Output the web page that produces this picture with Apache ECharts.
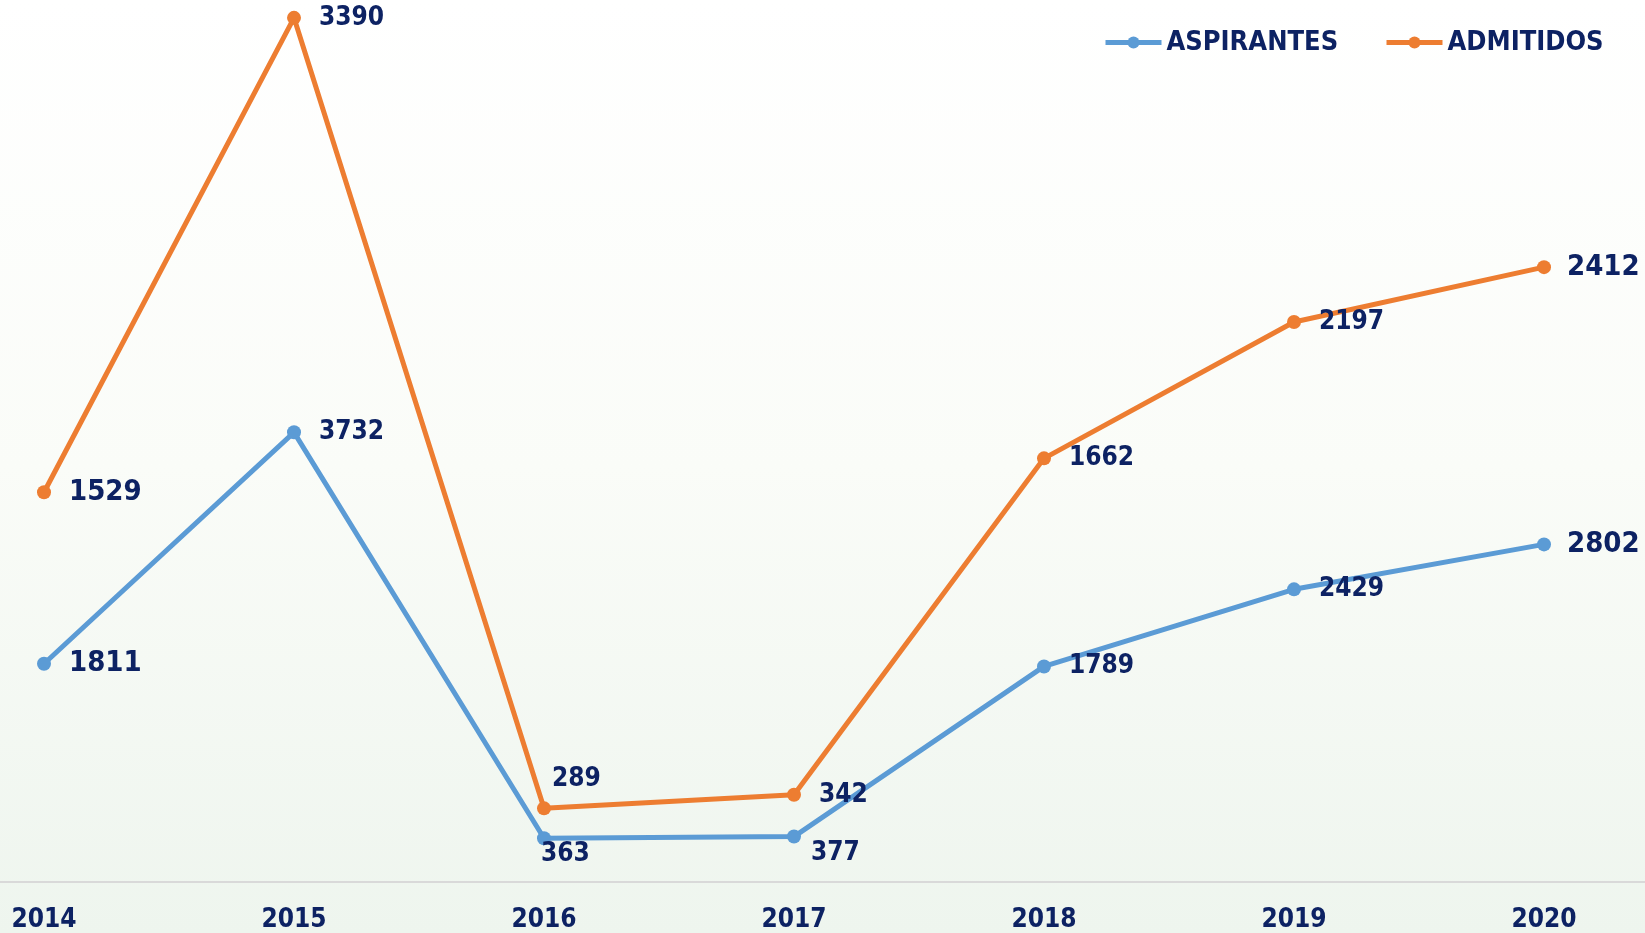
<!DOCTYPE html>
<html>
<head>
<meta charset="utf-8">
<script src="https://cdn.jsdelivr.net/npm/echarts@6/dist/echarts.min.js"></script>
<style>
html,body{margin:0;padding:0;width:1645px;height:933px;overflow:hidden;}
#c{width:1645px;height:933px;}
</style>
</head>
<body>
<div id="c"></div>
<script>
const years = ['2014', '2015', '2016', '2017', '2018', '2019', '2020'];
const aspirantes = [1811, 3732, 363, 377, 1789, 2429, 2802];
const admitidos = [1529, 3390, 289, 342, 1662, 2197, 2412];
const seriesNames = ['ASPIRANTES', 'ADMITIDOS'];

const NAVY = '#0d2263';
const FONT = "'Liberation Sans Narrow', 'DejaVu Sans Condensed', sans-serif";
const BIG = 29, SMALL = 26;

// per-point label tweaks (index -> label overrides)
const aspLabelTweaks = {
  0: {fontSize: BIG},
  2: {offset: [-28, 16]},
  3: {offset: [-8, 17]},
  6: {fontSize: BIG, distance: 16}
};
const admLabelTweaks = {
  0: {fontSize: BIG},
  2: {offset: [-17, -29]},
  6: {fontSize: BIG, distance: 16}
};

function buildData(values, tweaks) {
  return values.map((v, i) => tweaks[i] ? {value: v, label: tweaks[i]} : v);
}

const legendText = {color: NAVY, fontSize: SMALL + 1, fontWeight: 'bold', fontFamily: FONT};
function legendFor(name, left) {
  return {
    data: [name], left: left, top: 29, padding: 0,
    itemWidth: 56, itemHeight: 15,
    lineStyle: {width: 5},
    textStyle: legendText
  };
}

const chart = echarts.init(document.getElementById('c'), null, {renderer: 'canvas'});
chart.setOption({
  animation: false,
  backgroundColor: {
    type: 'linear', x: 0, y: 0, x2: 0, y2: 1,
    colorStops: [
      {offset: 0, color: '#ffffff'},
      {offset: 0.5, color: '#fafcf8'},
      {offset: 1, color: '#eef5ee'}
    ]
  },
  textStyle: {fontFamily: FONT},
  grid: {left: -81, right: -24, top: 0, bottom: 51, outerBoundsMode: 'none', containLabel: false},
  legend: [legendFor(seriesNames[0], 1103), legendFor(seriesNames[1], 1384)],
  xAxis: {
    type: 'category',
    data: years,
    boundaryGap: true,
    axisLine: {lineStyle: {color: '#d9d9d9', width: 2}},
    axisTick: {show: false},
    axisLabel: {color: NAVY, fontSize: SMALL, fontWeight: 'bold', fontFamily: FONT, margin: 25}
  },
  yAxis: [
    {type: 'value', min: 0, max: 7320, show: false, splitLine: {show: false}},
    {type: 'value', min: 0, max: 3460, show: false, splitLine: {show: false}}
  ],
  series: [
    {
      name: seriesNames[0], type: 'line', yAxisIndex: 0,
      data: buildData(aspirantes, aspLabelTweaks),
      color: '#5b9bd5',
      lineStyle: {width: 5, color: '#5b9bd5'},
      symbol: 'circle', symbolSize: 14,
      itemStyle: {color: '#5b9bd5'},
      label: {show: true, position: 'right', distance: 18, color: NAVY, fontSize: SMALL, fontWeight: 'bold', fontFamily: FONT}
    },
    {
      name: seriesNames[1], type: 'line', yAxisIndex: 1,
      data: buildData(admitidos, admLabelTweaks),
      color: '#ed7d31',
      lineStyle: {width: 5, color: '#ed7d31'},
      symbol: 'circle', symbolSize: 14,
      itemStyle: {color: '#ed7d31'},
      label: {show: true, position: 'right', distance: 18, color: NAVY, fontSize: SMALL, fontWeight: 'bold', fontFamily: FONT}
    }
  ]
});
</script>
</body>
</html>
